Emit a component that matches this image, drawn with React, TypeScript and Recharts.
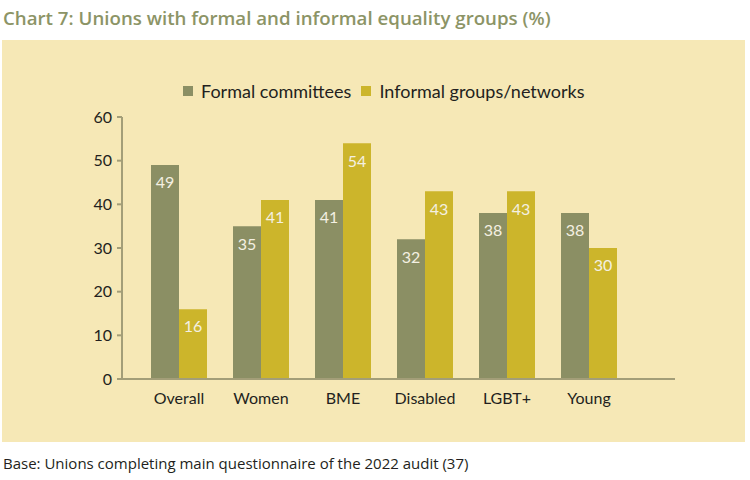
import React from 'react';
import { BarChart, Bar, XAxis, YAxis, LabelList } from 'recharts';

const categories = ['Overall', 'Women', 'BME', 'Disabled', 'LGBT+', 'Young'];
const formalCommittees = [49, 35, 41, 32, 38, 38];
const informalGroups = [16, 41, 54, 43, 43, 30];
const yTicks = [0, 10, 20, 30, 40, 50, 60];

const seriesNames = ['Formal committees', 'Informal groups/networks'];
const colors = ['#8b8f64', '#ccb52b'];

const data = categories.map((name, i) => ({
    name,
    formal: formalCommittees[i],
    informal: informalGroups[i],
}));

const chartFont = 'Lato, "Open Sans", sans-serif';
const textFont = '"Open Sans", sans-serif';

// legend sits above the plot, outside the chart's own layout
const LegendRow = () => (
    <div style={{ position: 'absolute', left: 181, top: 40, display: 'flex', fontFamily: chartFont, fontSize: 18, color: '#231f20' }}>
        {seriesNames.map((n, i) => (
            <span key={n} style={{ display: 'flex', alignItems: 'center', marginRight: 10 }}>
                <span style={{ width: 10, height: 10, background: colors[i], display: 'inline-block', marginRight: 8 }} />
                {n}
            </span>
        ))}
    </div>
);

const App = () => {
    return (
        <div style={{ position: 'absolute', left: 0, top: 0, width: 750, height: 480, background: '#ffffff' }}>
            <div style={{ position: 'absolute', left: 3, top: 5, fontFamily: textFont, fontSize: 18.7, fontWeight: 600, color: '#8c9466' }}>
                Chart 7: Unions with formal and informal equality groups (%)
            </div>
            <div style={{ position: 'absolute', left: 2, top: 40, width: 743, height: 402, background: '#f6e8b6' }}>
                <LegendRow />
                <BarChart
                    width={743}
                    height={402}
                    data={data}
                    margin={{ top: 77, right: 70, bottom: 33, left: 0 }}
                    barGap={0}
                    barSize={28}
                >
                    <XAxis
                        dataKey="name"
                        height={30}
                        padding={{ left: 16, right: 45 }}
                        axisLine={{ stroke: '#a39e78', strokeWidth: 2 }}
                        tickLine={false}
                        tickSize={0}
                        tickMargin={14}
                        tick={{ fill: '#231f20', fontSize: 16, fontFamily: chartFont }}
                    />
                    <YAxis
                        width={120}
                        domain={[0, 60]}
                        ticks={yTicks}
                        interval={0}
                        axisLine={{ stroke: '#a39e78', strokeWidth: 2 }}
                        tickLine={{ stroke: '#a39e78', strokeWidth: 2 }}
                        tickSize={5}
                        tickMargin={5}
                        tick={{ fill: '#231f20', fontSize: 16, fontFamily: chartFont }}
                    />
                    <Bar dataKey="formal" name={seriesNames[0]} fill={colors[0]} isAnimationActive={false}>
                        <LabelList dataKey="formal" position="insideTop" offset={12} fill="#f4f0e2" fontSize={16} fontFamily={chartFont} />
                    </Bar>
                    <Bar dataKey="informal" name={seriesNames[1]} fill={colors[1]} isAnimationActive={false}>
                        <LabelList dataKey="informal" position="insideTop" offset={12} fill="#f4f0e2" fontSize={16} fontFamily={chartFont} />
                    </Bar>
                </BarChart>
            </div>
            <div style={{ position: 'absolute', left: 3, top: 453, fontFamily: textFont, fontSize: 15, color: '#231f20' }}>
                Base: Unions completing main questionnaire of the 2022 audit (37)
            </div>
        </div>
    );
};

export default App;
